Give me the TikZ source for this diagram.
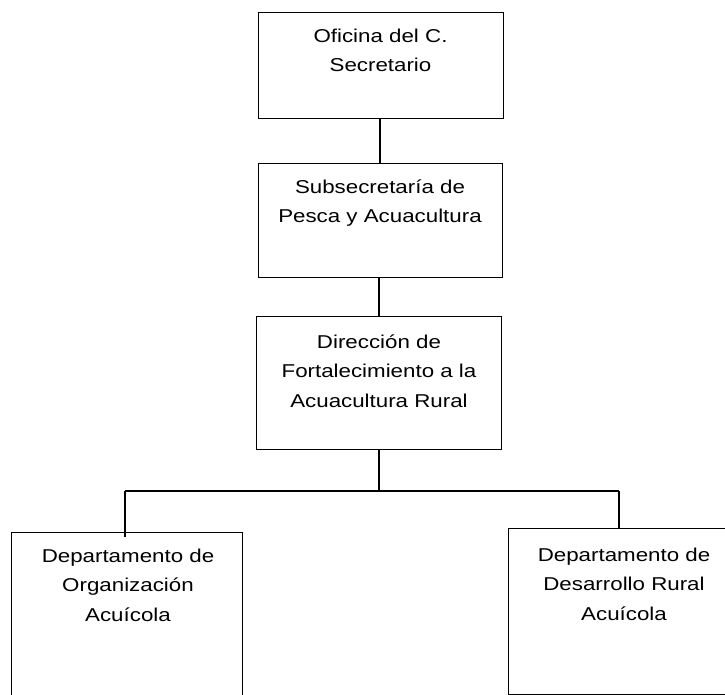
\documentclass[tikz,border=0pt]{standalone}
\usepackage{fontspec}
\setmainfont{Liberation Sans}[FakeStretch=1.2]
\begin{document}
\begin{tikzpicture}[x=1pt,y=-1pt,
  orgbox/.style={draw=black,line width=1.4pt,rectangle,inner sep=0pt,anchor=north west},
  orgtext/.style={align=center,inner sep=0pt,anchor=base,font=\fontsize{18.6}{29.5}\selectfont},
  conn/.style={draw=black,line width=1.4pt}]
\useasboundingbox (0,0) rectangle (725,694);
\clip (0,0) rectangle (725,694);
\node[orgbox,minimum width=245pt,minimum height=106pt] (b1) at (258,12) {};
\node[orgbox,minimum width=244pt,minimum height=114pt] (b2) at (258,163) {};
\node[orgbox,minimum width=245pt,minimum height=133pt] (b3) at (256,316) {};
\node[orgbox,minimum width=231pt,minimum height=180pt] (b4) at (11,532) {};
\node[orgbox,minimum width=240pt,minimum height=166pt] (b5) at (508,528) {};
\node[orgtext] (t1) at (380.5,71.5) {Oficina del C.\\Secretario};
\node[orgtext] (t2) at (380,222.5) {Subsecretaría de\\Pesca y Acuacultura};
\node[orgtext] (t3) at (379,407) {Dirección de\\Fortalecimiento a la\\Acuacultura Rural};
\node[orgtext] (t4) at (128,621) {Departamento de\\Organización\\Acuícola};
\node[orgtext] (t5) at (624,620) {Departamento de\\Desarrollo Rural\\Acuícola};
\coordinate (j) at (379,491);
\coordinate (hl) at (125,491);
\coordinate (hr) at (619,491);
\draw[conn] (b1.south -| 380,0) -- (b2.north -| 380,0);
\draw[conn] (b2.south -| j) -- (b3.north -| j);
\draw[conn] (b3.south -| j) -- (j);
\draw[conn] (hl) -- (hr);
\draw[conn] (hl) -- ([yshift=-5pt]b4.north -| hl);
\draw[conn] (hr) -- (b5.north -| hr);
\end{tikzpicture}
\end{document}
